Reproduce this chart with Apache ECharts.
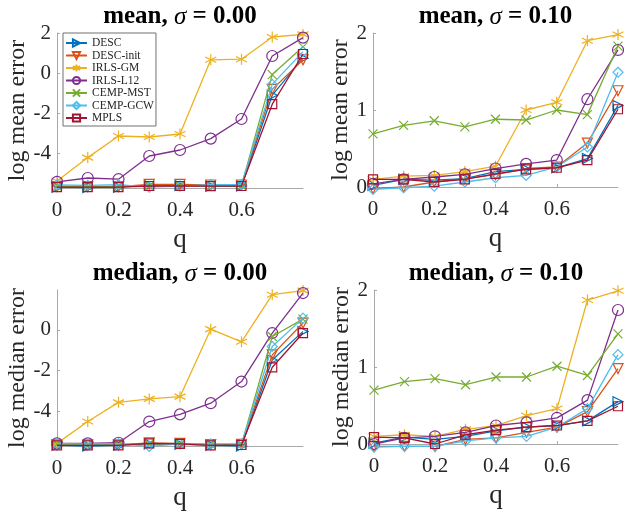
<!DOCTYPE html>
<html><head><meta charset="utf-8">
<script src="https://cdn.jsdelivr.net/npm/echarts@6/dist/echarts.min.js"></script>
<style>html,body{margin:0;padding:0;background:#fff}#c{width:624px;height:512px}</style>
</head><body><div id="c"></div>
<script>
// ---------- data ----------
const q = [0, 0.1, 0.2, 0.3, 0.4, 0.5, 0.6, 0.7, 0.8];
const methods = ['DESC', 'DESC-init', 'IRLS-GM', 'IRLS-L12', 'CEMP-MST', 'CEMP-GCW', 'MPLS'];
const xTickLabels = [0, 0.2, 0.4, 0.6];

// mean, sigma = 0.00
const meanS0_DESC     = [-5.71, -5.73, -5.71, -5.62, -5.63, -5.66, -5.65, -1.11, 0.74];
const meanS0_DESCinit = [-5.68, -5.68, -5.68, -5.57, -5.57, -5.60, -5.60, -0.82, 0.66];
const meanS0_IRLSGM   = [-5.40, -4.23, -3.15, -3.20, -3.05, 0.66, 0.69, 1.80, 1.93];
const meanS0_IRLSL12  = [-5.44, -5.25, -5.31, -4.15, -3.85, -3.28, -2.30, 0.85, 1.77];
const meanS0_CEMPMST  = [-5.67, -5.67, -5.67, -5.63, -5.63, -5.64, -5.63, -0.08, 1.31];
const meanS0_CEMPGCW  = [-5.60, -5.62, -5.58, -5.71, -5.66, -5.58, -5.58, -0.57, 1.07];
const meanS0_MPLS     = [-5.71, -5.71, -5.71, -5.65, -5.65, -5.66, -5.65, -1.56, 0.95];

// mean, sigma = 0.10
const meanS1_DESC     = [0.02, 0.10, 0.09, 0.11, 0.20, 0.23, 0.25, 0.37, 1.06];
const meanS1_DESCinit = [-0.02, 0.00, 0.065, 0.11, 0.16, 0.24, 0.26, 0.57, 1.25];
const meanS1_IRLSGM   = [0.10, 0.14, 0.15, 0.20, 0.27, 1.00, 1.10, 1.90, 1.98];
const meanS1_IRLSL12  = [0.04, 0.10, 0.13, 0.165, 0.24, 0.30, 0.35, 1.14, 1.78];
const meanS1_CEMPMST  = [0.69, 0.80, 0.86, 0.78, 0.88, 0.87, 1.00, 0.94, 1.83];
const meanS1_CEMPGCW  = [-0.03, -0.01, 0.01, 0.065, 0.12, 0.15, 0.26, 0.52, 1.49];
const meanS1_MPLS     = [0.10, 0.10, 0.065, 0.10, 0.17, 0.23, 0.25, 0.35, 1.01];

// median, sigma = 0.00
const medS0_DESC     = [-5.66, -5.70, -5.66, -5.60, -5.62, -5.66, -5.70, -1.48, -0.08];
const medS0_DESCinit = [-5.64, -5.64, -5.64, -5.55, -5.57, -5.63, -5.62, -1.23, 0.33];
const medS0_IRLSGM   = [-5.57, -4.50, -3.56, -3.39, -3.28, 0.03, -0.59, 1.72, 1.92];
const medS0_IRLSL12  = [-5.57, -5.57, -5.54, -4.50, -4.15, -3.60, -2.54, -0.16, 1.80];
const medS0_CEMPMST  = [-5.62, -5.63, -5.62, -5.58, -5.60, -5.62, -5.62, -0.33, 0.52];
const medS0_CEMPGCW  = [-5.58, -5.60, -5.58, -5.72, -5.60, -5.60, -5.60, -0.82, 0.57];
const medS0_MPLS     = [-5.67, -5.67, -5.67, -5.57, -5.60, -5.67, -5.65, -1.84, -0.16];

// median, sigma = 0.10
const medS1_DESC     = [0.01, 0.09, 0.06, 0.10, 0.17, 0.22, 0.24, 0.30, 0.55];
const medS1_DESCinit = [-0.03, -0.03, -0.03, 0.06, 0.08, 0.15, 0.22, 0.42, 0.98];
const medS1_IRLSGM   = [0.10, 0.12, 0.10, 0.19, 0.24, 0.37, 0.46, 1.87, 1.99];
const medS1_IRLSL12  = [0.00, 0.08, 0.10, 0.15, 0.24, 0.28, 0.34, 0.57, 1.74];
const medS1_CEMPMST  = [0.70, 0.81, 0.85, 0.77, 0.87, 0.87, 1.01, 0.89, 1.43];
const medS1_CEMPGCW  = [-0.04, -0.03, -0.03, 0.04, 0.08, 0.10, 0.22, 0.46, 1.16];
const medS1_MPLS     = [0.09, 0.08, 0.00, 0.12, 0.18, 0.22, 0.24, 0.30, 0.49];

const yTicksTL = [-4, -2, 0, 2];
const yTicksTR = [0, 1, 2];
const yTicksBL = [-4, -2, 0];
const yTicksBR = [0, 1, 2];

const panels = [
  {title: 'mean', sig: '0.00', yname: 'log mean error', ymin: -5.75, ymax: 2, yticks: yTicksTL, ygap: 26,
   data: [meanS0_DESC, meanS0_DESCinit, meanS0_IRLSGM, meanS0_IRLSL12, meanS0_CEMPMST, meanS0_CEMPGCW, meanS0_MPLS]},
  {title: 'mean', sig: '0.10', yname: 'log mean error', ymin: 0, ymax: 2, yticks: yTicksTR, ygap: 19,
   data: [meanS1_DESC, meanS1_DESCinit, meanS1_IRLSGM, meanS1_IRLSL12, meanS1_CEMPMST, meanS1_CEMPGCW, meanS1_MPLS]},
  {title: 'median', sig: '0.00', yname: 'log median error', ymin: -5.7, ymax: 1.95, yticks: yTicksBL, ygap: 26,
   data: [medS0_DESC, medS0_DESCinit, medS0_IRLSGM, medS0_IRLSL12, medS0_CEMPMST, medS0_CEMPGCW, medS0_MPLS]},
  {title: 'median', sig: '0.10', yname: 'log median error', ymin: 0, ymax: 2, yticks: yTicksBR, ygap: 19,
   data: [medS1_DESC, medS1_DESCinit, medS1_IRLSGM, medS1_IRLSL12, medS1_CEMPMST, medS1_CEMPGCW, medS1_MPLS]}
];

// ---------- styles ----------
const colors = ['#0072BD', '#D95319', '#EDB120', '#7E2F8E', '#77AC30', '#4DBEEE', '#A2142F'];
const symbols = ['triangle', 'triangle', 'path://M0,-10L0,10M-8.66,-5L8.66,5M-8.66,5L8.66,-5', 'circle',
                 'path://M-1,-1L1,1M-1,1L1,-1', 'diamond', 'rect'];
const symRot = [-90, 180, 0, 0, 0, 0, 0];
const symSize = [10, 10, 11, 11, 9, 10, 9];
const grids = [
  {left: 57, top: 33, width: 246, height: 155},
  {left: 373, top: 33, width: 245, height: 154},
  {left: 57, top: 290, width: 246, height: 156},
  {left: 374, top: 290, width: 244, height: 154}
];
const FONT = 'Liberation Serif';
const axisColor = '#a8a8a8';
const textColor = '#262626';

const xAxis = [], yAxis = [], series = [], graphic = [];
panels.forEach((p, i) => {
  xAxis.push({
    type: 'value', gridIndex: i, min: 0, max: 0.8,
    name: 'q', nameLocation: 'middle', nameGap: 38,
    nameTextStyle: {fontFamily: FONT, fontSize: 27, color: textColor},
    axisLine: {onZero: false, lineStyle: {color: axisColor, width: 1}},
    axisTick: {inside: true, length: 3, lineStyle: {color: axisColor}, customValues: xTickLabels},
    axisLabel: {customValues: xTickLabels, fontFamily: FONT, fontSize: 21, color: textColor, margin: 12,
      formatter: v => (v === 0 ? '0' : v.toFixed(1))},
    splitLine: {show: false}
  });
  yAxis.push({
    type: 'value', gridIndex: i, min: p.ymin, max: p.ymax,
    name: p.yname, nameLocation: 'middle', nameGap: p.ygap,
    nameTextStyle: {fontFamily: FONT, fontSize: 24, color: textColor},
    axisLine: {show: true, onZero: false, lineStyle: {color: axisColor, width: 1}},
    axisTick: {show: true, inside: true, length: 3, lineStyle: {color: axisColor}, customValues: p.yticks},
    axisLabel: {customValues: p.yticks, fontFamily: FONT, fontSize: 21, color: textColor, margin: 6,
      formatter: v => String(v)},
    splitLine: {show: false}
  });
  const g = grids[i];
  graphic.push({
    type: 'text', x: g.left + g.width / 2, y: g.top - 16,
    style: {
      text: '{b|' + p.title + ', }{i|σ}{b| = ' + p.sig + '}',
      align: 'center', verticalAlign: 'middle', textAlign: 'center', textVerticalAlign: 'middle',
      rich: {
        b: {fontFamily: FONT, fontWeight: 'bold', fontSize: 25, fill: '#000', color: '#000'},
        i: {fontFamily: FONT, fontStyle: 'italic', fontSize: 25, fill: '#000', color: '#000'}
      }
    }
  });
  p.data.forEach((arr, k) => {
    series.push({
      type: 'line', name: methods[k], xAxisIndex: i, yAxisIndex: i,
      data: q.map((x, j) => [x, arr[j]]),
      symbol: symbols[k], symbolSize: symSize[k], symbolRotate: symRot[k],
      showAllSymbol: true, clip: false, animation: false,
      lineStyle: {color: colors[k], width: 1.3},
      itemStyle: {color: 'rgba(255,255,255,0)', borderColor: colors[k], borderWidth: 1.2},
      emphasis: {disabled: true},
      z: 2 + k
    });
  });
});

const chart = echarts.init(document.getElementById('c'), null, {renderer: 'canvas'});
chart.setOption({
  backgroundColor: '#fff',
  animation: false,
  grid: grids,
  xAxis: xAxis,
  yAxis: yAxis,
  series: series,
  graphic: graphic,
  legend: {
    data: methods, orient: 'vertical', left: 63, top: 33,
    itemWidth: 21, itemHeight: 9, itemGap: 0.5,
    padding: [4, 2, 2, 2],
    borderColor: '#707070', borderWidth: 1, backgroundColor: '#fff',
    textStyle: {fontFamily: FONT, fontSize: 11.5, lineHeight: 12, color: textColor},
    z: 20
  }
});
</script></body></html>
